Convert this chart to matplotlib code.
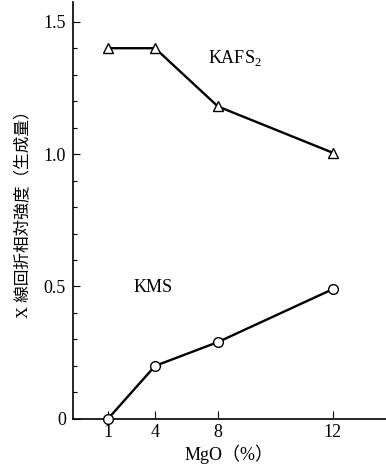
import numpy as np
import matplotlib
matplotlib.use("Agg")
import matplotlib.pyplot as plt
from matplotlib.ticker import MultipleLocator

plt.rcParams['font.family'] = ['Liberation Serif', 'Noto Sans CJK JP']
plt.rcParams['mathtext.fontset'] = 'custom'
plt.rcParams['mathtext.rm'] = 'Liberation Serif'

# data
mgo = [1, 4, 8, 12]
kafs2 = [1.40, 1.40, 1.18, 1.005]
kms = [0.0, 0.20, 0.29, 0.49]
xticks = [1, 4, 8, 12]
yticks = [0, 0.5, 1.0, 1.5]
ytick_labels = ["0", "0.5", "1.0", "1.5"]

# the original x axis is stretched beyond 8 %
k = 1.83
def fwd(x):
    x = np.asarray(x, dtype=float)
    return np.where(x <= 8, x, 8 + (x - 8) * k)

def inv(x):
    x = np.asarray(x, dtype=float)
    return np.where(x <= 8, x, 8 + (x - 8) / k)

fig = plt.figure(figsize=(3.86, 4.68), dpi=100)
ax = fig.add_axes([0.189, 0.105, 0.811, 0.891])
ax.set_xscale('function', functions=(fwd, inv))

ax.plot(mgo, kafs2, color='black', lw=1.7, marker='^', ms=7,
        mfc='white', mec='black', mew=1.0)
ax.plot(mgo, kms, color='black', lw=1.7, marker='o', ms=7,
        mfc='white', mec='black', mew=1.0, clip_on=False, zorder=5)

ax.set_xlim(-1.23, 13.85)
ax.set_ylim(0, 1.575)

ax.set_xticks(xticks)
ax.set_xticklabels([str(t) for t in xticks], fontsize=13)
ax.set_yticks(yticks)
ax.set_yticklabels(ytick_labels, fontsize=13)
ax.yaxis.set_minor_locator(MultipleLocator(0.1))
ax.tick_params(axis='x', direction='in', length=6, width=0.8, pad=4)
ax.tick_params(axis='y', which='major', direction='in', length=5, width=0.8, pad=5)
ax.tick_params(axis='y', which='minor', direction='in', length=3, width=0.8)

for s in ['top', 'right']:
    ax.spines[s].set_visible(False)
ax.spines['left'].set_linewidth(1.2)
ax.spines['bottom'].set_linewidth(1.2)

ax.text(8.6, 1.364, r"KAFS$_\mathrm{2}$", fontsize=13, ha='center', va='center')
ax.text(3.87, 0.495, "KMS", fontsize=13, ha='center', va='center')

ax.set_xlabel("MgO（%）", fontsize=13, labelpad=2)
ax.set_ylabel("X 線回折相対強度（生成量）", fontsize=12, labelpad=8)

fig.savefig("out.png", dpi=100)
